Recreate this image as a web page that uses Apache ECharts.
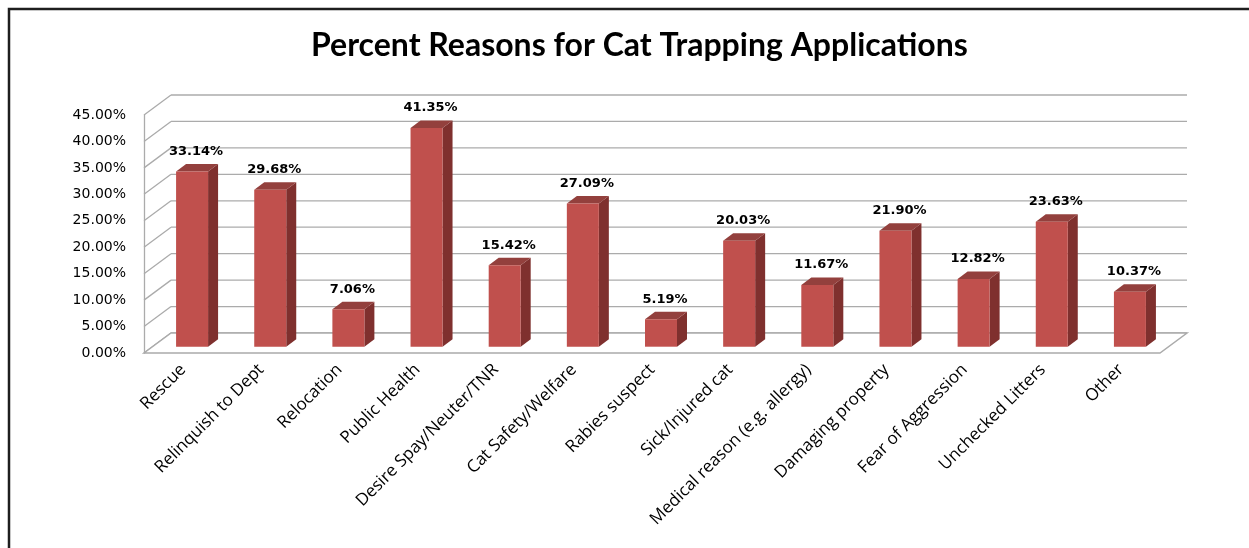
<!DOCTYPE html>
<html>
<head>
<meta charset="utf-8">
<script src="https://cdn.jsdelivr.net/npm/echarts@6/dist/echarts.min.js"></script>
<style>
  html, body { margin: 0; padding: 0; background: #fff; }
  #chart { width: 1249px; height: 548px; }
</style>
</head>
<body>
<div id="chart"></div>
<script>
// Reasons given on cat trapping applications, percent of applications
const categories = [
  'Rescue', 'Relinquish to Dept', 'Relocation', 'Public Health',
  'Desire Spay/Neuter/TNR', 'Cat Safety/Welfare', 'Rabies suspect',
  'Sick/Injured cat', 'Medical reason (e.g. allergy)', 'Damaging property',
  'Fear of Aggression', 'Unchecked Litters', 'Other'
];
const percents = [33.14, 29.68, 7.06, 41.35, 15.42, 27.09, 5.19, 20.03, 11.67, 21.90, 12.82, 23.63, 10.37];
const yTicks = [0, 5, 10, 15, 20, 25, 30, 35, 40, 45];

// pseudo-3D geometry (pixels)
const DEPTH_X = 27, DEPTH_Y = -20;      // floor / wall depth
const FACE_X = 9, FACE_Y = -6.3;        // front face of a bar, inside the floor
const BAR_W = 32, SIDE_X = 10, SIDE_Y = -7.5;
const FRONT = '#C0504D', SIDE = '#7F302E', TOP = '#93403D';
const GRID_COLOR = '#ABABAB';

const chart = echarts.init(document.getElementById('chart'), null, { renderer: 'canvas' });

function wallItem(params, api) {
  const cs = params.coordSys;
  const v = api.value(0);
  const y = api.coord([0, v])[1];
  const x0 = cs.x, x1 = cs.x + cs.width;
  const children = [
    { type: 'line', shape: { x1: x0, y1: y, x2: x0 + DEPTH_X, y2: y + DEPTH_Y },
      style: { stroke: GRID_COLOR, lineWidth: 1.3 } },
    { type: 'line', shape: { x1: x0 + DEPTH_X, y1: y + DEPTH_Y, x2: x1 + DEPTH_X, y2: y + DEPTH_Y },
      style: { stroke: GRID_COLOR, lineWidth: 1.3 } }
  ];
  if (v === 0) {
    children.push(
      { type: 'polygon', shape: { points: [[x0, y], [x1, y], [x1 + DEPTH_X, y + DEPTH_Y], [x0 + DEPTH_X, y + DEPTH_Y]] },
        style: { fill: '#fff', stroke: GRID_COLOR, lineWidth: 1.5 } }
    );
  }
  return { type: 'group', children: children };
}

function barItem(params, api) {
  const i = api.value(0);
  const v = api.value(1);
  const base = api.coord([i, 0]);
  const topPt = api.coord([i, v]);
  const cx = base[0] + FACE_X;
  const xl = cx - BAR_W / 2, xr = cx + BAR_W / 2;
  const yb = base[1] + FACE_Y, yt = topPt[1] + FACE_Y;
  return {
    type: 'group',
    children: [
      { type: 'polygon', shape: { points: [[xr, yb], [xr + SIDE_X, yb + SIDE_Y], [xr + SIDE_X, yt + SIDE_Y], [xr, yt]] },
        style: { fill: SIDE } },
      { type: 'polygon', shape: { points: [[xl, yt], [xr, yt], [xr + SIDE_X, yt + SIDE_Y], [xl + SIDE_X, yt + SIDE_Y]] },
        style: { fill: TOP } },
      { type: 'rect', shape: { x: xl, y: yt, width: BAR_W, height: yb - yt },
        style: { fill: FRONT } },
      { type: 'text', x: cx + 4, y: yt - 20,
        style: { text: v.toFixed(2) + '%', align: 'center', verticalAlign: 'middle',
                 font: 'bold 13px "DejaVu Sans"', fill: '#000' } }
    ]
  };
}

chart.setOption({
  animation: false,
  title: {
    text: 'Percent Reasons for Cat Trapping Applications',
    left: 306, top: 25,
    textStyle: { fontFamily: 'Lato', fontWeight: 'bold', fontSize: 32, color: '#000' }
  },
  graphic: [{
    type: 'rect', z: 100, silent: true,
    shape: { x: 9, y: 9, width: 1400, height: 700 },
    style: { fill: 'none', stroke: '#1e1e1e', lineWidth: 2.5 }
  }],
  grid: { left: 144, right: 89, top: 115, bottom: 195 },
  xAxis: {
    type: 'category',
    data: categories,
    axisLine: { show: false },
    axisTick: { show: false },
    axisLabel: {
      interval: 0, rotate: 45, margin: 14,
      fontFamily: 'Open Sans', fontSize: 17, color: '#000'
    }
  },
  yAxis: {
    type: 'value', min: 0, max: 45, interval: 5,
    axisLine: { show: true, lineStyle: { color: GRID_COLOR, width: 1.3 } },
    axisTick: { show: false },
    splitLine: { show: false },
    axisLabel: {
      margin: 18, fontFamily: 'DejaVu Sans', fontSize: 14, color: '#000',
      formatter: v => v.toFixed(2) + '%'
    }
  },
  series: [
    {
      type: 'custom', name: 'walls', z: 1, silent: true,
      renderItem: wallItem,
      data: yTicks.slice().reverse().map(v => [v])
    },
    {
      type: 'custom', name: 'Percent', z: 5,
      renderItem: barItem,
      encode: { x: 0, y: 1 },
      data: percents.map((v, i) => [i, v])
    }
  ]
});
</script>
</body>
</html>
